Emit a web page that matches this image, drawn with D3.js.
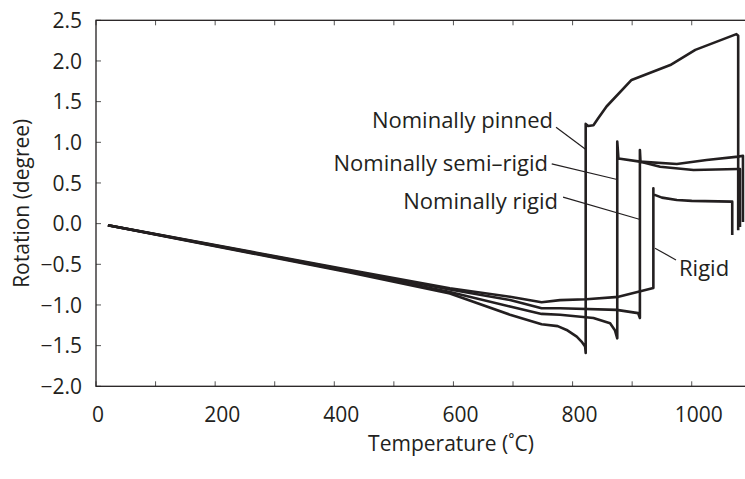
<!DOCTYPE html>
<html>
<head>
<meta charset="utf-8">
<script src="https://cdn.jsdelivr.net/npm/d3@7/dist/d3.min.js"></script>
<style>
  html, body { margin: 0; padding: 0; background: #fff; }
  svg { display: block; }
  text { font-family: "Open Sans", "Noto Sans", sans-serif; fill: #231f20; }
</style>
</head>
<body>
<svg id="chart" width="745" height="479"></svg>
<script>
// Rotation vs temperature for four joint conditions, [temperature °C, rotation degree]
const pinned = [
  [20, -0.02], [426, -0.60], [594, -0.86], [695, -1.12], [748, -1.237], [775, -1.26],
  [790, -1.307], [807, -1.39], [815, -1.45], [821, -1.51], [822, -1.59],
  [822, 1.226], [826, 1.20], [835, 1.21], [843, 1.296], [857, 1.44], [899, 1.767],
  [964, 1.95], [1006, 2.136], [1075, 2.33], [1078, 2.31], [1078, -0.08]
];
const semiRigid = [
  [20, -0.02], [426, -0.59], [594, -0.84], [695, -1.02], [748, -1.11], [779, -1.12],
  [835, -1.16], [863, -1.225], [871, -1.31], [875, -1.41],
  [875, 1.01], [877, 0.80], [913, 0.762], [975, 0.734], [1025, 0.783], [1078, 0.824],
  [1086, 0.835], [1086, 0.02]
];
const nominallyRigid = [
  [20, -0.02], [426, -0.58], [594, -0.81], [695, -0.94], [748, -1.04], [779, -1.04],
  [874, -1.06], [910, -1.10], [913, -1.16],
  [913, 0.906], [914, 0.76], [947, 0.70], [1003, 0.66], [1078, 0.672], [1081, 0.672],
  [1081, -0.04]
];
const rigid = [
  [20, -0.02], [426, -0.57], [594, -0.795], [695, -0.90], [748, -0.967], [779, -0.94],
  [823, -0.93], [877, -0.90], [935.6, -0.79],
  [935.6, 0.435], [935.6, 0.36], [950, 0.32], [975, 0.29], [1000, 0.28], [1067, 0.27],
  [1068, 0.27], [1068, -0.14]
];
const seriesList = [pinned, semiRigid, nominallyRigid, rigid];

// Annotations: label text, label anchor point, leader line from/to (data units)
const labelNames = ["Nominally pinned", "Nominally semi\u2013rigid", "Nominally rigid", "Rigid"];
const labelAnchors = [[767.2, 1.177], [758.8, 0.642], [775.6, 0.175], [978.7, -0.64]];
const labelAlign = ["end", "end", "end", "start"];
const leaderFrom = [[772.2, 1.185], [765, 0.734], [784, 0.325], [973.6, -0.446]];
const leaderTo = [[821.7, 0.915], [873, 0.546], [912, 0.054], [938.4, -0.302]];

const xTicks = d3.range(0, 1101, 100);
const xTickLabels = [0, 200, 400, 600, 800, 1000];
const yTicks = d3.range(-2, 2.51, 0.5);

const xTitle = "Temperature (\u02DAC)";
const yTitle = "Rotation (degree)";

const svg = d3.select("#chart");
const plotLeft = 96, plotRight = 751.3, plotTop = 20.3, plotBottom = 386.3;

const x = d3.scaleLinear().domain([0, 1100]).range([plotLeft, plotRight]);
const y = d3.scaleLinear().domain([-2, 2.5]).range([plotBottom, plotTop]);

const ink = "#231f20";
const tickLen = 5;

// tick marks on all four sides, pointing inward
const tickG = svg.append("g").attr("stroke", "#555").attr("stroke-width", 1);
xTicks.forEach(t => {
  tickG.append("line").attr("x1", x(t)).attr("x2", x(t)).attr("y1", plotBottom).attr("y2", plotBottom - tickLen);
  tickG.append("line").attr("x1", x(t)).attr("x2", x(t)).attr("y1", plotTop).attr("y2", plotTop + tickLen);
});
yTicks.forEach(v => {
  tickG.append("line").attr("x1", plotLeft).attr("x2", plotLeft + tickLen).attr("y1", y(v)).attr("y2", y(v));
  tickG.append("line").attr("x1", plotRight).attr("x2", plotRight - tickLen).attr("y1", y(v)).attr("y2", y(v));
});

// frame
svg.append("rect")
  .attr("x", plotLeft).attr("y", plotTop)
  .attr("width", plotRight - plotLeft).attr("height", plotBottom - plotTop)
  .attr("fill", "none").attr("stroke", ink).attr("stroke-width", 1.3);

// tick labels
const fmt = v => (v < 0 ? "\u2212" : "") + d3.format(".1f")(Math.abs(v));
svg.append("g").selectAll("text").data(yTicks).join("text")
  .attr("x", 82).attr("y", d => y(d))
  .attr("dy", "0.36em")
  .attr("text-anchor", "end")
  .attr("font-size", 21)
  .text(fmt);

svg.append("g").selectAll("text").data(xTickLabels).join("text")
  .attr("x", d => x(d) + (d === 0 ? 2 : 7)).attr("y", 422)
  .attr("text-anchor", "middle")
  .attr("font-size", 21)
  .text(d => d);

// axis titles
svg.append("text")
  .attr("x", 451).attr("y", 451)
  .attr("text-anchor", "middle")
  .attr("font-size", 21)
  .text(xTitle);

svg.append("text")
  .attr("transform", `translate(29, ${(plotTop + plotBottom) / 2}) rotate(-90)`)
  .attr("text-anchor", "middle")
  .attr("font-size", 21)
  .text(yTitle);

// curves
const line = d3.line().x(d => x(d[0])).y(d => y(d[1]));
svg.append("g").selectAll("path").data(seriesList).join("path")
  .attr("d", line)
  .attr("fill", "none")
  .attr("stroke", ink)
  .attr("stroke-width", 2.6)
  .attr("stroke-linejoin", "round");

// leader lines and labels
labelNames.forEach((name, i) => {
  svg.append("line")
    .attr("x1", x(leaderFrom[i][0])).attr("y1", y(leaderFrom[i][1]))
    .attr("x2", x(leaderTo[i][0])).attr("y2", y(leaderTo[i][1]))
    .attr("stroke", ink).attr("stroke-width", 1.2);
  svg.append("text")
    .attr("x", x(labelAnchors[i][0])).attr("y", y(labelAnchors[i][1]))
    .attr("text-anchor", labelAlign[i])
    .attr("font-size", 22)
    .text(name);
});
</script>
</body>
</html>
